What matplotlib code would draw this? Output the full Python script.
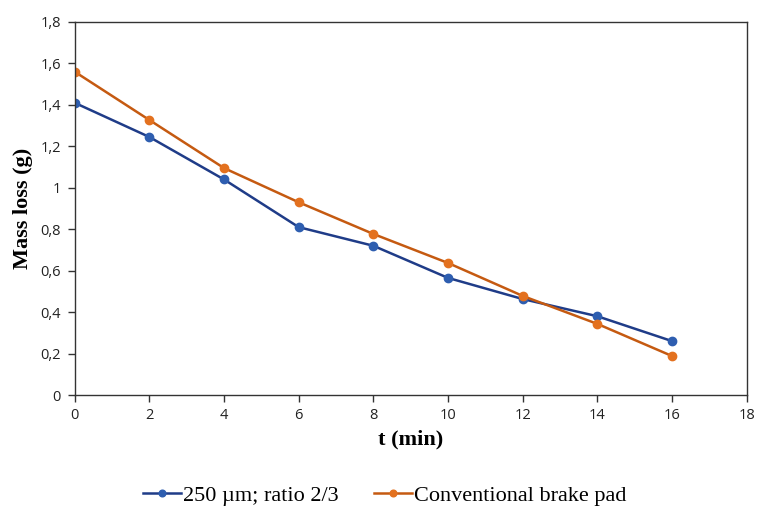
import matplotlib
matplotlib.use("Agg")
import matplotlib.pyplot as plt
from matplotlib.ticker import FuncFormatter

t = [0, 2, 4, 6, 8, 10, 12, 14, 16]
mass_250 = [1.41, 1.245, 1.04, 0.81, 0.72, 0.565, 0.463, 0.38, 0.26]
mass_conv = [1.56, 1.327, 1.095, 0.93, 0.777, 0.637, 0.478, 0.343, 0.188]
label_250 = "250 µm; ratio 2/3"
label_conv = "Conventional brake pad"

fig = plt.figure(figsize=(7.62, 5.11), dpi=100)
ax = fig.add_axes([0.098, 0.227, 0.882, 0.730])

ax.plot(t, mass_250, color="#1F3C88", lw=1.8, marker="o", ms=6,
        mfc="#2E5EB0", mec="#2E5EB0", label=label_250)
ax.plot(t, mass_conv, color="#C55A11", lw=1.8, marker="o", ms=6,
        mfc="#E3711F", mec="#E3711F", label=label_conv)

ax.set_xlim(0, 18)
ax.set_ylim(0, 1.8)
ax.set_xticks(range(0, 19, 2))
ax.set_yticks([0, 0.2, 0.4, 0.6, 0.8, 1.0, 1.2, 1.4, 1.6, 1.8])

def fmt(v, pos):
    s = ("%.1f" % v).rstrip("0").rstrip(".")
    return s.replace(".", ",")
ax.yaxis.set_major_formatter(FuncFormatter(fmt))

for sp in ax.spines.values():
    sp.set_color("#333333")
    sp.set_linewidth(1.0)
ax.tick_params(direction="out", length=5, width=1, colors="#333333",
               labelsize=10.5, labelcolor="#222222")
ax.tick_params(axis="y", pad=5)
ax.tick_params(axis="x", pad=4)
for lbl in ax.get_xticklabels() + ax.get_yticklabels():
    lbl.set_family("Open Sans")

ax.set_xlabel("t (min)", family="Liberation Serif", fontweight="bold",
              fontsize=16, labelpad=5)
ax.set_ylabel("Mass loss (g)", family="Liberation Serif", fontweight="bold",
              fontsize=16, labelpad=5)

fig.legend(loc="center", bbox_to_anchor=(0.505, 0.03), ncol=2, frameon=False,
           prop={"family": "Liberation Serif", "size": 16},
           handlelength=1.7, handletextpad=0.1, columnspacing=1.6,
           markerscale=0.8, borderpad=0)

fig.savefig("out.png", dpi=100)
